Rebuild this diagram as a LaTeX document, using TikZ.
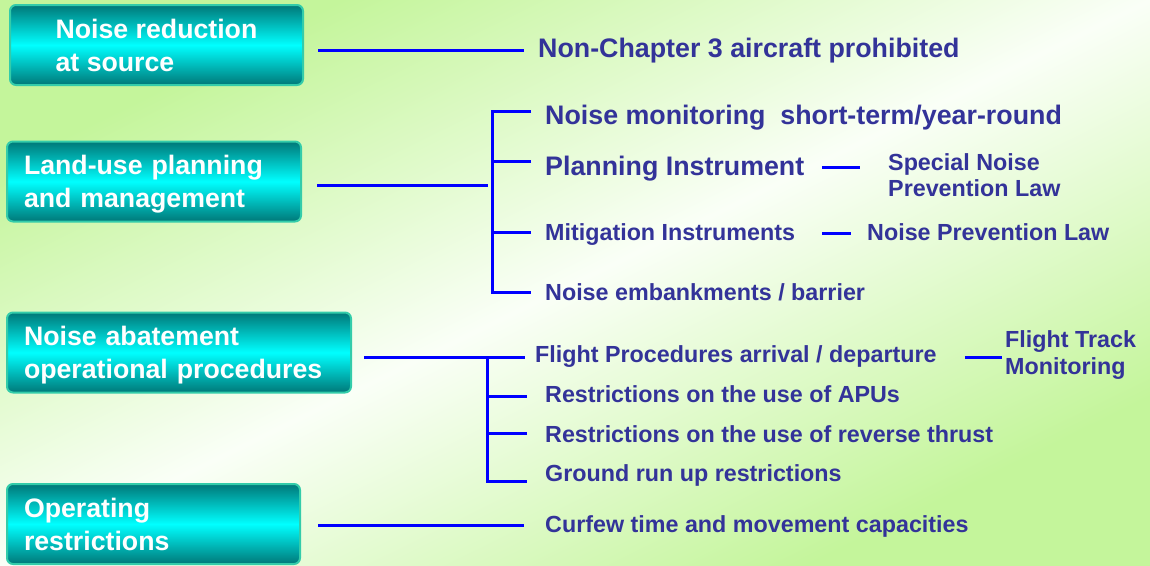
\documentclass[tikz,border=0pt]{standalone}
\usepackage{fontspec}
\setmainfont{Liberation Sans}
\definecolor{paleGreen}{RGB}{196,245,155}
\definecolor{paleWhite}{RGB}{250,255,247}
\definecolor{tealDark}{RGB}{0,120,120}
\definecolor{tealLight}{RGB}{0,255,255}
\definecolor{tealEdge}{RGB}{51,204,170}
\definecolor{navyText}{RGB}{51,51,153}
\begin{document}
\begin{tikzpicture}[x=1pt, y=-1pt,
    topic/.style = {draw=tealEdge, line width=2pt, rounded corners=6pt, top color=tealDark, bottom color=tealDark, middle color=tealLight, text=white, font=\fontsize{26.7}{33}\selectfont\bfseries, align=left, minimum height=80pt},
    item/.style = {text=navyText, font=\fontsize{26.8}{32}\selectfont\bfseries, anchor=base west, inner sep=0pt},
    minor/.style = {text=navyText, font=\fontsize{23.3}{26.7}\selectfont\bfseries, anchor=base west, inner sep=0pt, align=left},
    link/.style = {draw=blue, line width=3pt}]
    \useasboundingbox (0,0) rectangle (1150,565);
    % background, green in two corners
    \begin{scope}[transform canvas={xscale=11.5, yscale=5.65}]
        \shade[top color=paleGreen, bottom color=paleGreen, middle color=paleWhite, shading angle=45] (0,0) rectangle (100,100);
    \end{scope}

    % the four measures
    \node[topic, minimum width=293pt] (src) at (156.5,45) {Noise reduction\\at source};
    \node[topic, minimum width=294pt, text width=260pt, inner xsep=17pt] (land) at (154,181.5) {Land-use planning\\\smash{and management}};
    \node[topic, minimum width=344pt, text width=310pt, inner xsep=17pt] (nap) at (179,352.5) {Noise abatement\\\smash{operational procedures}};
    \node[topic, minimum width=293pt, text width=259pt, inner xsep=17pt] (opr) at (153.5,524) {Operating\\restrictions};

    % what each one covers
    \node[item] (nc3) at (538,57) {Non-Chapter 3 aircraft prohibited};
    \node[item] (mon) at (545,124) {Noise monitoring~ short-term/year-round};
    \node[item] (plan) at (545,175.6) {Planning Instrument};
    \node[minor] (snpl) at (888,196.7) {Special Noise\\Prevention Law};
    \node[minor] (miti) at (545,240.7) {Mitigation Instruments};
    \node[minor] (npl) at (867,240.7) {Noise Prevention Law};
    \node[minor] (emb) at (545,300) {Noise embankments / barrier};
    \node[minor] (flp) at (535,362) {Flight Procedures arrival / departure};
    \node[minor] (ftm) at (1005,374) {Flight Track\\Monitoring};
    \node[minor] (apu) at (545,402) {Restrictions on the use of APUs};
    \node[minor] (rev) at (545,442) {Restrictions on the use of reverse thrust};
    \node[minor] (gnd) at (545,481.7) {Ground run up restrictions};
    \node[minor] (cfw) at (545,532.7) {Curfew time and movement capacities};

    % connectors
    \draw[link] ([xshift=14pt,yshift=-5pt]src.east) -- ([xshift=-14pt,yshift=7pt]nc3.base west);

    \draw[link] ([xshift=15pt,yshift=-3.5pt]land.east) -- ++(171,0);
    \draw[link] ([xshift=-14pt,yshift=13pt]mon.base west) -| ([xshift=-53pt,yshift=8pt]emb.base west) -- ([xshift=-14pt,yshift=8pt]emb.base west);
    \draw[link] ([xshift=-14pt,yshift=14.6pt]plan.base west) -- ++(-39,0);
    \draw[link] ([xshift=-14pt,yshift=8.7pt]miti.base west) -- ++(-39,0);
    \draw[link] ([xshift=18pt,yshift=8.6pt]plan.base east) -- ++(38,0);
    \draw[link] ([xshift=27pt,yshift=7.7pt]miti.base east) -- ++(29,0);

    \draw[link] ([xshift=12pt,yshift=-4.5pt]nap.east) -- ([xshift=-10pt,yshift=5pt]flp.base west);
    \draw[link] ([xshift=-48pt,yshift=5pt]flp.base west) |- ([xshift=-18pt]gnd.base west);
    \draw[link] ([xshift=-18pt,yshift=6pt]apu.base west) -- ++(-40,0);
    \draw[link] ([xshift=-18pt,yshift=9pt]rev.base west) -- ++(-40,0);
    \draw[link] ([xshift=28pt,yshift=5pt]flp.base east) -- ++(37,0);

    \draw[link] ([xshift=17pt,yshift=-1pt]opr.east) -- ([xshift=-21pt,yshift=7.7pt]cfw.base west);
\end{tikzpicture}
\end{document}
